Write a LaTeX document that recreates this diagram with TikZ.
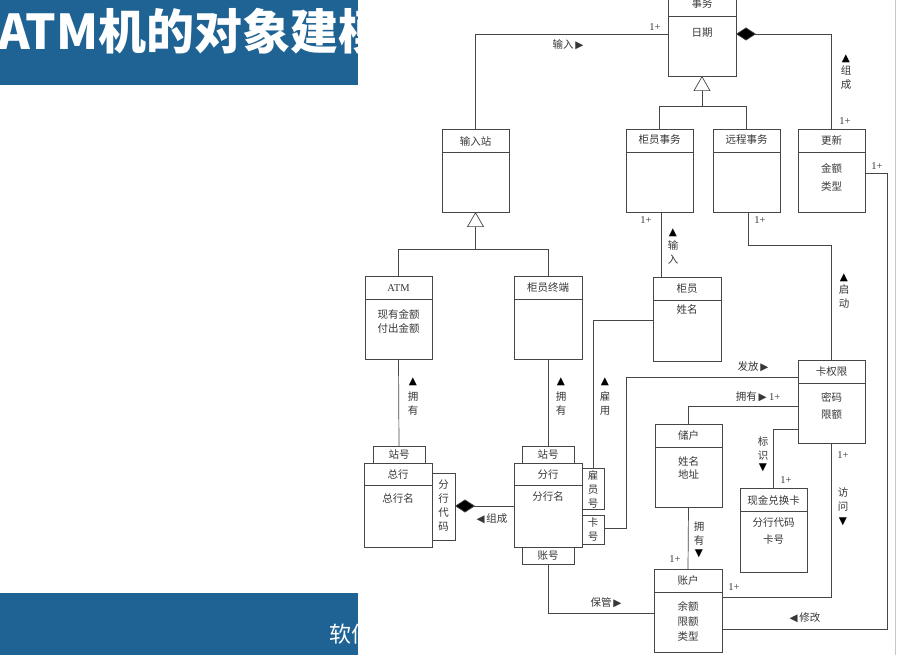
\documentclass[tikz,border=0pt]{standalone}
\usepackage{fontspec}
\setmainfont{Liberation Serif}
\newfontfamily\cjk{Noto Sans CJK SC}
\newfontfamily\symf{DejaVu Sans}
\usetikzlibrary{arrows.meta}
\definecolor{banner}{RGB}{31,99,148}
\definecolor{ink}{RGB}{70,70,70}
\definecolor{txt}{RGB}{55,55,55}

% direction marks used beside association names
\newcommand\arrR{{\symf\fontsize{10.5}{10}\selectfont ▶}}
\newcommand\arrL{{\symf\fontsize{10.5}{10}\selectfont ◀}}
\newcommand\arrU{{\symf\fontsize{10.5}{10}\selectfont ▲}}
\newcommand\arrD{{\symf\fontsize{10.5}{10}\selectfont ▼}}

% class box: name, left, top, right, bottom, y of the line under the title
\newcommand\umlbox[6]{%
  \node[box, anchor=north west, minimum width={#4-#2}, minimum height={#5-#3}] (#1) at (#2,#3) {};
  \draw[conn] (#1.west |- 0,#6) -- (#1.east |- 0,#6);
}
% qualifier box: name, left, top, right, bottom
\newcommand\qualbox[5]{%
  \node[box, anchor=north west, minimum width={#4-#2}, minimum height={#5-#3}] (#1) at (#2,#3) {};
}

\begin{document}
\begin{tikzpicture}[x=1pt,y=-1pt,
  box/.style={draw=ink, line width=0.7pt, inner sep=0pt, outer sep=0pt, fill=white},
  conn/.style={draw=ink, line width=0.7pt},
  t/.style={font=\cjk\fontsize{10.5}{12}\selectfont, text=txt, inner sep=0pt},
  vt/.style={font=\cjk\fontsize{10.5}{14}\selectfont, text=txt, inner sep=0pt, align=center},
  mult/.style={font=\fontsize{10.5}{12}\selectfont, text=txt, inner sep=0pt},
  mk/.style={inner sep=0pt, text=black},
  comp/.style={conn, -{Diamond[length=20pt,width=13pt,fill=black]}},
  gen/.style={conn, -{Triangle[open,length=15pt,width=17pt,fill=white]}},
]
\useasboundingbox (0,0) rectangle (924,655);

% slide banners behind the figure
\fill[banner] (0,0) rectangle (358,85);
\node[font=\cjk\bfseries\fontsize{48}{52}\selectfont, text=white, anchor=base west, inner sep=0pt] (title) at (-2,50) {ATM机的对象建模};
\fill[banner] (0,593) rectangle (358,655);
\node[font=\cjk\fontsize{22}{24}\selectfont, text=white, anchor=west, inner sep=0pt] (foot) at (329,634) {软件工程};

% figure panel
\fill[white] (358,0) rectangle (924,655);
\draw[gray!45, line width=0.8pt] (895,0) -- (895,655);

% ---------- classes ----------
\umlbox{shiwu}{668}{-8}{736}{76}{16}
\node[t] (shiwu-n) at (702,4) {事务};
\node[t] (shiwu-a) at (702,33) {日期};

\umlbox{shuruzhan}{442}{129}{509}{212}{152}
\node[t] (shuruzhan-n) at (475.5,141) {输入站};

\umlbox{gyshiwu}{626}{129}{693}{212}{152}
\node[t] (gyshiwu-n) at (659.5,140) {柜员事务};

\umlbox{yuancheng}{713}{129}{780}{212}{152}
\node[t] (yuancheng-n) at (746.5,140) {远程事务};

\umlbox{gengxin}{798}{129}{865}{212}{152}
\node[t] (gengxin-n) at (831.5,140) {更新};
\node[t] (gengxin-a) at (831.5,168) {金额};
\node[t] (gengxin-b) at (831.5,187) {类型};

\umlbox{atm}{365}{276}{432}{359}{299}
\node[mult] (atm-n) at (398.5,288) {ATM};
\node[t] (atm-a) at (398.5,314) {现有金额};
\node[t] (atm-b) at (398.5,328) {付出金额};

\umlbox{gyzd}{514}{276}{582}{359}{299}
\node[t] (gyzd-n) at (548,288) {柜员终端};

\umlbox{guiyuan}{653}{277}{721}{361}{300}
\node[t] (guiyuan-n) at (687,289) {柜员};
\node[t] (guiyuan-a) at (687,309) {姓名};

\umlbox{kqx}{798}{360}{865}{443}{383}
\node[t] (kqx-n) at (831.5,372) {卡权限};
\node[t] (kqx-a) at (831.5,397) {密码};
\node[t] (kqx-b) at (831.5,415) {限额};

\umlbox{chuhu}{655}{424}{722}{507}{447}
\node[t] (chuhu-n) at (688.5,436) {储户};
\node[t] (chuhu-a) at (688.5,461) {姓名};
\node[t] (chuhu-b) at (688.5,474) {地址};

\umlbox{xianjin}{740}{488}{807}{572}{511}
\node[t] (xianjin-n) at (773.5,500) {现金兑换卡};
\node[t] (xianjin-a) at (773.5,523) {分行代码};
\node[t] (xianjin-b) at (773.5,540) {卡号};

\umlbox{zhanghu}{654}{569}{722}{652}{592}
\node[t] (zhanghu-n) at (688,581) {账户};
\node[t] (zhanghu-a) at (688,606) {余额};
\node[t] (zhanghu-b) at (688,622) {限额};
\node[t] (zhanghu-c) at (688,637) {类型};

\umlbox{zonghang}{364}{463}{432}{547}{485}
\node[t] (zonghang-n) at (398,475) {总行};
\node[t] (zonghang-a) at (398,499) {总行名};

\umlbox{fenhang}{514}{463}{582}{547}{485}
\node[t] (fenhang-n) at (548,475) {分行};
\node[t] (fenhang-a) at (548,497) {分行名};

% qualifiers
\qualbox{zh1}{373}{446}{425}{463}
\node[t] (zh1-n) at (399,454) {站号};
\qualbox{zh2}{522}{446}{574}{463}
\node[t] (zh2-n) at (548,454) {站号};
\qualbox{fhdm}{432}{473}{455}{540}
\node[vt] (fhdm-n) at (443.5,506) {分\\行\\代\\码};
\qualbox{gyh}{582}{468}{604}{509}
\node[vt] (gyh-n) at (593,489) {雇\\员\\号};
\qualbox{kh}{582}{515}{604}{544}
\node[vt] (kh-n) at (593,529.5) {卡\\号};
\qualbox{zhh}{522}{547}{574}{564}
\node[t] (zhh-n) at (548,556) {账号};

% ---------- generalisations ----------
\coordinate (g1) at (shiwu.south |- 0,106);
\draw[conn] (gyshiwu.north) |- (yuancheng.north |- g1) -- (yuancheng.north);
\draw[gen] (g1) -- (shiwu.south);

\coordinate (g2) at (shuruzhan.south |- 0,249);
\draw[conn] (atm.north) |- (gyzd.north |- g2) -- (gyzd.north);
\draw[gen] (g2) -- (shuruzhan.south);

% ---------- associations ----------
% 输入站 -- 事务
\draw[conn] (shuruzhan.north) |- (shiwu.west |- 0,34);
\node[mult] (m1) at (655,27) {1+};
\node[t] (l1) at (568,45) {输入\,\arrR};

% 更新 composes 事务
\draw[comp] (gengxin.north) |- (shiwu.east |- 0,34);
\node[mk] (l2a) at (846,59) {\arrU};
\node[vt] (l2) at (846,78) {组\\成};
\node[mult] (m2) at (845,121) {1+};

% 柜员事务 -- 柜员
\draw[conn] (gyshiwu.south) ++(1.5,0) coordinate (c3) -- (c3 |- guiyuan.north);
\node[mult] (m3) at (646,220) {1+};
\node[mk] (l3a) at (673,233) {\arrU};
\node[vt] (l3) at (673,252) {输\\入};

% 远程事务 -- 卡权限
\draw[conn] (yuancheng.south) ++(1.5,0) coordinate (c4) -- (c4 |- 0,245) -| (kqx.north);
\node[mult] (m4) at (760,220) {1+};
\node[mk] (l4a) at (844,278) {\arrU};
\node[vt] (l4) at (844,296) {启\\动};

% ATM -- 站号
\draw[conn] (atm.south) -- (zh1.north);
\node[mk] (l5a) at (413,382) {\arrU};
\node[vt] (l5) at (413,403.5) {拥\\有};

% 柜员终端 -- 站号
\draw[conn] (gyzd.south) -- (zh2.north);
\node[mk] (l6a) at (561,382) {\arrU};
\node[vt] (l6) at (561,403.5) {拥\\有};

% 柜员 -- 雇员号
\draw[conn] (guiyuan.west |- 0,320) -| (gyh.north);
\node[mk] (l7a) at (605,382) {\arrU};
\node[vt] (l7) at (605,403.5) {雇\\用};

% 卡号 -- 卡权限
\draw[conn] (kh.east |- 0,528) -| (626,377) -- (kqx.west |- 0,377);
\node[t] (l8) at (753,367) {发放\,\arrR};

% 储户 -- 卡权限
\draw[conn] (chuhu.north) |- (kqx.west |- 0,406);
\node[t] (l9) at (758,397) {拥有\,\arrR\ \fontspec{Liberation Serif}1+};

% 卡权限 -- 现金兑换卡
\draw[conn] (kqx.west |- 0,429) -| (xianjin.north);
\node[vt] (l10) at (763,449) {标\\识};
\node[mk] (l10a) at (763,468) {\arrD};
\node[mult] (m10) at (786,480) {1+};

% 卡权限 -- 账户
\draw[conn] (kqx.south) |- (zhanghu.east |- 0,597);
\node[mult] (m11) at (843,455) {1+};
\node[vt] (l11) at (843,500) {访\\问};
\node[mk] (l11a) at (843,522) {\arrD};
\node[mult] (m11b) at (734,587) {1+};

% 储户 -- 账户
\draw[conn] (chuhu.south) -- (zhanghu.north);
\node[vt] (l12) at (699,533.5) {拥\\有};
\node[mk] (l12a) at (699,554) {\arrD};
\node[mult] (m12) at (675,559) {1+};

% 账号 -- 账户
\draw[conn] (zhh.south) |- (zhanghu.west |- 0,613);
\node[t] (l13) at (606,603) {保管\,\arrR};

% 分行 composes 总行
\draw[comp] (fenhang.west |- 0,506) -- (fhdm.east |- 0,506);
\node[t] (l14) at (492,519) {\arrL\,组成};

% 账户 -- 更新
\draw[conn] (zhanghu.east |- 0,629) -| (887,173) -- (gengxin.east |- 0,173);
\node[mult] (m15) at (877,166) {1+};
\node[t] (l15) at (805,618) {\arrL\,修改};

\end{tikzpicture}
\end{document}
